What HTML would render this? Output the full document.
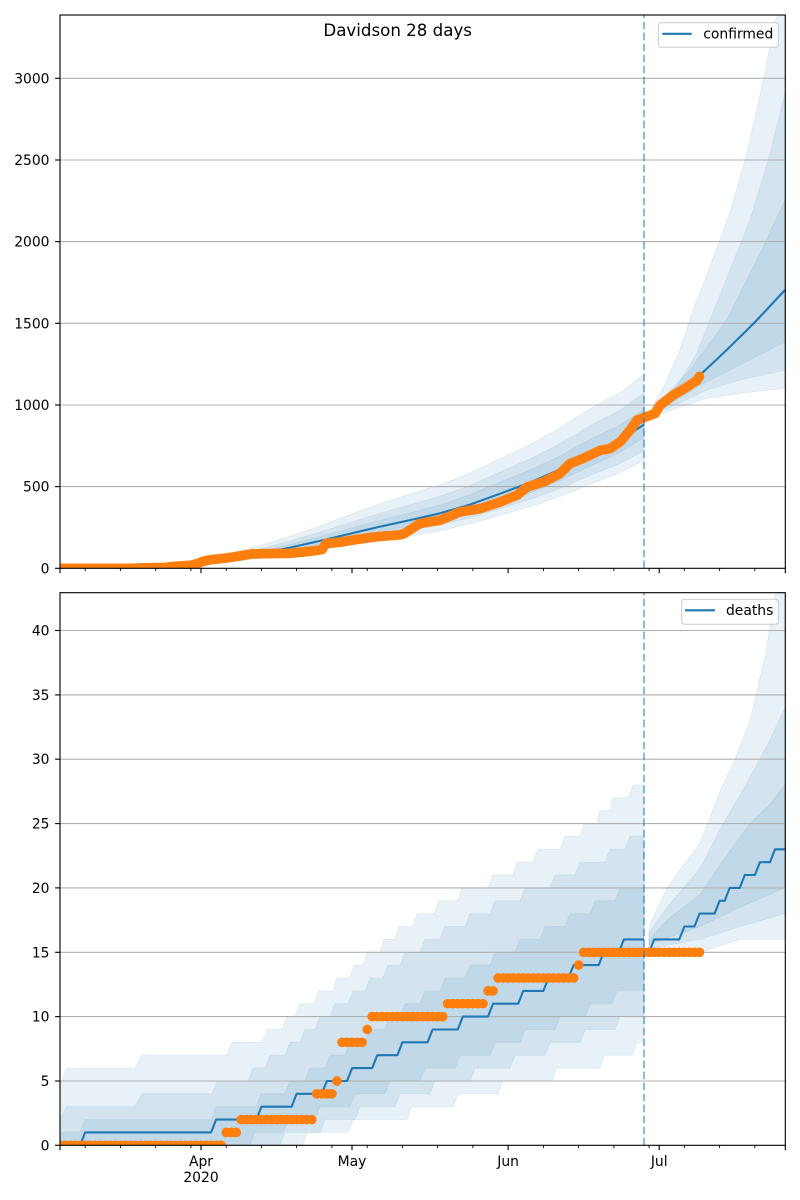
<!DOCTYPE html>
<html><head><meta charset="utf-8"><style>
html,body{margin:0;padding:0;background:#fff;}
svg{display:block;}
text{font-family:"DejaVu Sans","Liberation Sans",sans-serif;fill:#000;}
</style></head><body>
<svg width="800" height="1200" viewBox="0 0 800 1200" xmlns="http://www.w3.org/2000/svg">
<defs>
<clipPath id="c1"><rect x="60" y="15" width="725.3" height="553.3"/></clipPath>
<clipPath id="c2"><rect x="60" y="592.7" width="725.3" height="552.6"/></clipPath>
</defs>
<rect x="0" y="0" width="800" height="1200" fill="#fff"/>

<!-- ============ TOP AXES ============ -->
<g clip-path="url(#c1)">
 <g fill="#1f77b4" fill-opacity="0.1" stroke="#1f77b4" stroke-opacity="0.1" stroke-width="0.8">
  <path d="M60,568.3 L140,567.8 L170,566.3 L200,561.2 L230,553.6 L260,545.5 L290,536.1 L320,525.8 L350,514.6 L380,503.7 L410,494.0 L440,484.7 L470,473.1 L500,458.6 L530,444.4 L560,428.0 L590,408.8 L620,392.6 L644,374.3 L644,460.5 L620,473.0 L590,484.3 L560,496.5 L530,506.7 L500,515.3 L470,524.0 L440,530.9 L410,536.3 L380,540.8 L350,545.4 L320,550.2 L290,554.6 L260,558.6 L230,562.0 L200,565.3 L170,567.4 L140,568.3 L60,568.3Z"/>
  <path d="M60,568.3 L140,568 L170,566.6 L200,562.3 L230,555.8 L260,548.9 L290,540.9 L320,532.1 L350,522.6 L380,513.3 L410,504.8 L440,496.3 L470,485.6 L500,472.0 L530,459.0 L560,443.7 L590,425.8 L620,410.3 L644,393.0 L644,450.4 L620,463.5 L590,475.4 L560,488.5 L530,499.4 L500,508.6 L470,517.7 L440,524.9 L410,530.6 L380,535.8 L350,541.3 L320,546.9 L290,552.1 L260,556.8 L230,560.9 L200,564.7 L170,567.3 L140,568.3 L60,568.3Z"/>
  <path d="M60,568.3 L140,568 L170,566.8 L200,563.0 L230,557.4 L260,551.4 L290,544.5 L320,536.7 L350,528.5 L380,520.4 L410,512.9 L440,505.1 L470,494.8 L500,482.1 L530,470.0 L560,456.0 L590,439.4 L620,425.1 L644,408.8 L644,437.5 L620,452.5 L590,466.0 L560,480.7 L530,493.0 L500,503.4 L470,512.7 L440,520.1 L410,526.0 L380,531.6 L350,537.8 L320,544.2 L290,550.0 L260,555.4 L230,560.0 L200,564.3 L170,567.2 L140,568.3 L60,568.3Z"/>
  <path d="M649,412.7 L663,388 L680,350 L693,310 L706.7,275 L730,212 L745,160 L760,95 L775,22 L785,-5 L785,388.3 L740,393.3 L706.7,398.3 L649,418Z"/>
  <path d="M649,412.7 L676.7,386.7 L696.7,353.3 L723.3,286.7 L750,220 L768.3,160 L785,93 L785,370 L740,380 L706.7,390 L649,417Z"/>
  <path d="M649,412.7 L690,370 L726.7,320 L760,253.3 L785,200 L785,341.7 L740,365 L706.7,381.7 L649,416Z"/>
 </g>
 <g stroke="#b0b0b0" stroke-width="1.1">
  <line x1="60" x2="785.3" y1="486.6" y2="486.6"/>
  <line x1="60" x2="785.3" y1="405.0" y2="405.0"/>
  <line x1="60" x2="785.3" y1="323.3" y2="323.3"/>
  <line x1="60" x2="785.3" y1="241.6" y2="241.6"/>
  <line x1="60" x2="785.3" y1="160.0" y2="160.0"/>
  <line x1="60" x2="785.3" y1="78.3" y2="78.3"/>
 </g>
 <g fill="none" stroke="#1f77b4" stroke-width="2.08" stroke-linejoin="round">
  <polyline points="60,568.3 140,568.0 170,567.0 200,563.7 230,558.8 260,553.6 290,547.6 320,540.9 350,533.7 380,526.6 410,520.1 440,513.3 470,504.6 500,493.7 530,482.5 560,469.5 590,454.0 620,440.1 644,424.6"/>
  <polyline points="649,415 660,406 675,395 690,382 700,375 715,361 730,346.7 745,332 757,320 771,305 785,290"/>
 </g>
 <polyline fill="none" stroke="#ff7f0e" stroke-width="9.7" stroke-linecap="round" stroke-linejoin="round" points="60,568.3 130,568.3 145,567.8 165,567.5 175,566.3 190,565.4 198,563.4 203,561.4 210,559.8 225,558.2 240,555.9 252,553.9 265,553.6 290,553.3 303,552.0 318,550.3 322,549.5 326,543.5 340,542.2 355,539.7 375,536.9 400,534.8 404,533.7 420,523.5 440,520.3 460,511.9 480,508.7 500,502.0 517,495.3 527,487.0 543,482.1 560,473.6 570,463.6 583,458.5 600,450.4 610,448.6 620,442.0 630,430.3 637,420.3 647,416.4 655,413.6 660,405.3 673,395.3 687,387.0 697,380.3 699.5,376.4"/>
 <line x1="644" x2="644" y1="568.3" y2="15" stroke="#1f77b4" stroke-opacity="0.5" stroke-width="2.08" stroke-dasharray="7.7 3.3"/>
</g>
<!-- spines top -->
<rect x="60" y="15" width="725.3" height="553.3" fill="none" stroke="#000" stroke-width="1.11"/>
<!-- ticks top -->
<g stroke="#000" stroke-width="1.11">
 <line x1="55.1" x2="60" y1="568.3" y2="568.3"/>
 <line x1="55.1" x2="60" y1="486.6" y2="486.6"/>
 <line x1="55.1" x2="60" y1="405.0" y2="405.0"/>
 <line x1="55.1" x2="60" y1="323.3" y2="323.3"/>
 <line x1="55.1" x2="60" y1="241.6" y2="241.6"/>
 <line x1="55.1" x2="60" y1="160.0" y2="160.0"/>
 <line x1="55.1" x2="60" y1="78.3" y2="78.3"/>
 <line x1="60" x2="60" y1="568.3" y2="573.2"/>
 <line x1="201" x2="201" y1="568.3" y2="573.2"/>
 <line x1="352" x2="352" y1="568.3" y2="573.2"/>
 <line x1="508.1" x2="508.1" y1="568.3" y2="573.2"/>
 <line x1="659.2" x2="659.2" y1="568.3" y2="573.2"/>
 <line x1="785.3" x2="785.3" y1="568.3" y2="573.2"/>
</g>
<g stroke="#000" stroke-width="0.9">
 <line x1="85.2" x2="85.2" y1="568.3" y2="571.1"/><line x1="120.4" x2="120.4" y1="568.3" y2="571.1"/><line x1="155.7" x2="155.7" y1="568.3" y2="571.1"/><line x1="190.9" x2="190.9" y1="568.3" y2="571.1"/><line x1="226.2" x2="226.2" y1="568.3" y2="571.1"/><line x1="261.4" x2="261.4" y1="568.3" y2="571.1"/><line x1="296.6" x2="296.6" y1="568.3" y2="571.1"/><line x1="331.9" x2="331.9" y1="568.3" y2="571.1"/><line x1="367.2" x2="367.2" y1="568.3" y2="571.1"/><line x1="402.4" x2="402.4" y1="568.3" y2="571.1"/><line x1="437.6" x2="437.6" y1="568.3" y2="571.1"/><line x1="472.9" x2="472.9" y1="568.3" y2="571.1"/><line x1="543.4" x2="543.4" y1="568.3" y2="571.1"/><line x1="578.6" x2="578.6" y1="568.3" y2="571.1"/><line x1="613.9" x2="613.9" y1="568.3" y2="571.1"/><line x1="649.1" x2="649.1" y1="568.3" y2="571.1"/><line x1="684.3" x2="684.3" y1="568.3" y2="571.1"/><line x1="719.6" x2="719.6" y1="568.3" y2="571.1"/><line x1="754.8" x2="754.8" y1="568.3" y2="571.1"/>
</g>
<g font-size="13.89" text-anchor="end">
 <text x="49.5" y="573.3">0</text>
 <text x="49.5" y="491.6">500</text>
 <text x="49.5" y="410.0">1000</text>
 <text x="49.5" y="328.3">1500</text>
 <text x="49.5" y="246.6">2000</text>
 <text x="49.5" y="165.0">2500</text>
 <text x="49.5" y="83.3">3000</text>
</g>
<text x="397.7" y="36" font-size="16.67" text-anchor="middle">Davidson 28 days</text>
<!-- legend top -->
<rect x="658.3" y="22.7" width="120" height="24.6" rx="2.8" ry="2.8" fill="#fff" fill-opacity="0.8" stroke="#cccccc" stroke-width="1"/>
<line x1="662.3" x2="691.7" y1="33.8" y2="33.8" stroke="#1f77b4" stroke-width="2.08"/>
<text x="703.3" y="38.6" font-size="13.89">confirmed</text>

<!-- ============ BOTTOM AXES ============ -->
<g clip-path="url(#c2)">
 <g fill="#1f77b4" fill-opacity="0.1" stroke="#1f77b4" stroke-opacity="0.1" stroke-width="0.8">
  <path d="M60,1084.8 L66.7,1068.1 L135,1068.1 L141.7,1055.2 L226.7,1055.2 L231.7,1042.3 L262,1042.3 L268,1029.5 L282,1029.5 L287,1016.6 L295,1016.6 L300,1003.7 L314,1003.7 L319,990.9 L333,990.9 L337,978 L350,978 L354,965.1 L363,965.1 L367,952.3 L380,952.3 L384,939.4 L395,939.4 L399,926.5 L413,926.5 L417,913.6 L434,913.6 L439,900.8 L458,900.8 L462,887.9 L488,887.9 L493,875 L513,875 L517,862.2 L533,862.2 L538,849.3 L560,849.3 L565,836.4 L580,836.4 L584,823.6 L597,823.6 L600,810.7 L610,810.7 L613,797.8 L628,797.8 L633,784.9 L644,784.9 L644,1042.3 L637,1042.3 L632,1055.2 L604,1055.2 L600,1068.1 L556,1068.1 L553,1081 L503,1081 L498,1093.8 L458,1093.8 L453,1106.7 L412,1106.7 L407,1119.6 L353,1119.6 L348,1132.4 L307,1132.4 L303,1145.3 L60,1145.3 Z"/>
  <path d="M60,1119.6 L66,1106.7 L135,1106.7 L142,1093.8 L212,1093.8 L217,1081 L248,1081 L253,1068.1 L265,1068.1 L270,1055.2 L285,1055.2 L290,1042.3 L300,1042.3 L305,1029.5 L315,1029.5 L320,1016.6 L330,1016.6 L335,1003.7 L348,1003.7 L353,990.9 L365,990.9 L370,978 L383,978 L388,965.1 L400,965.1 L405,952.3 L420,952.3 L425,939.4 L440,939.4 L445,926.5 L465,926.5 L470,913.6 L490,913.6 L495,900.8 L520,900.8 L525,887.9 L550,887.9 L555,875 L575,875 L580,862.2 L605,862.2 L610,849.3 L625,849.3 L630,836.4 L644,836.4 L644,1016.6 L620,1016.6 L615,1029.5 L585,1029.5 L580,1042.3 L550,1042.3 L545,1055.2 L515,1055.2 L510,1068.1 L475,1068.1 L470,1081 L435,1081 L430,1093.8 L400,1093.8 L395,1106.7 L360,1106.7 L355,1119.6 L325,1119.6 L320,1132.4 L285,1132.4 L280,1145.3 L60,1145.3 Z"/>
  <path d="M60,1132.4 L80,1132.4 L85,1119.6 L211,1119.6 L216,1106.7 L256,1106.7 L261,1093.8 L285,1093.8 L290,1081 L305,1081 L310,1068.1 L325,1068.1 L330,1055.2 L345,1055.2 L350,1042.3 L365,1042.3 L370,1029.5 L385,1029.5 L390,1016.6 L400,1016.6 L405,1003.7 L420,1003.7 L425,990.9 L440,990.9 L445,978 L465,978 L470,965.1 L490,965.1 L495,952.3 L515,952.3 L520,939.4 L540,939.4 L545,926.5 L565,926.5 L570,913.6 L590,913.6 L595,900.8 L615,900.8 L620,887.9 L644,887.9 L644,990.9 L617,990.9 L612,1003.7 L590,1003.7 L585,1016.6 L560,1016.6 L555,1029.5 L525,1029.5 L520,1042.3 L495,1042.3 L490,1055.2 L460,1055.2 L455,1068.1 L425,1068.1 L420,1081 L390,1081 L385,1093.8 L355,1093.8 L350,1106.7 L320,1106.7 L315,1119.6 L288,1119.6 L283,1132.4 L255,1132.4 L250,1145.3 L60,1145.3 Z"/>
  <path d="M649,926.5 L667,887.9 L700,842.9 L720,791.4 L735,759.2 L750,720.6 L765,656.2 L777,585.5 L785,553.3 L785,939.4 L740,939.4 L700,952.3 L649,952.3Z"/>
  <path d="M649,933.0 L667,907.2 L700,868.6 L720,830.0 L750,777.2 L770,739.9 L785,707.7 L785,913.6 L740,926.5 L700,939.4 L649,948.4Z"/>
  <path d="M649,939.4 L667,920.1 L700,894.3 L720,864.7 L750,823.6 L770,804.2 L785,784.9 L785,887.9 L740,907.2 L700,926.5 L649,944.5Z"/>
 </g>
 <g stroke="#b0b0b0" stroke-width="1.1">
  <line x1="60" x2="785.3" y1="1081.0" y2="1081.0"/>
  <line x1="60" x2="785.3" y1="1016.6" y2="1016.6"/>
  <line x1="60" x2="785.3" y1="952.3" y2="952.3"/>
  <line x1="60" x2="785.3" y1="887.9" y2="887.9"/>
  <line x1="60" x2="785.3" y1="823.6" y2="823.6"/>
  <line x1="60" x2="785.3" y1="759.2" y2="759.2"/>
  <line x1="60" x2="785.3" y1="694.9" y2="694.9"/>
  <line x1="60" x2="785.3" y1="630.5" y2="630.5"/>
 </g>
 <g fill="none" stroke="#1f77b4" stroke-width="2.08" stroke-linejoin="round">
  <polyline points="60,1145.3 80.1,1145.3 85.2,1132.4 211.1,1132.4 216.1,1119.6 256.4,1119.6 261.4,1106.7 291.6,1106.7 296.6,1093.8 321.8,1093.8 326.9,1081.0 347.0,1081.0 352.1,1068.1 372.2,1068.1 377.2,1055.2 397.4,1055.2 402.4,1042.3 427.6,1042.3 432.6,1029.5 457.8,1029.5 462.8,1016.6 488.0,1016.6 493.0,1003.7 518.2,1003.7 523.2,990.9 543.4,990.9 548.4,978.0 568.5,978.0 573.6,965.1 598.7,965.1 603.7,952.3 618.8,952.3 623.9,939.4 644.0,939.4"/>
  <polyline points="649.1,952.3 654.2,939.4 679.3,939.4 684.4,926.5 694.4,926.5 699.5,913.6 714.6,913.6 719.6,900.8 724.7,900.8 729.7,887.9 739.8,887.9 744.8,875.0 754.9,875.0 759.9,862.2 770.0,862.2 775.0,849.3 785.1,849.3"/>
 </g>
 <g stroke="#ff7f0e" stroke-width="9.7" stroke-linecap="round" stroke-dasharray="0.01 5.025" fill="none">
  <line x1="60" x2="221.6" y1="1145.3" y2="1145.3"/>
  <line x1="226.2" x2="236.7" y1="1132.4" y2="1132.4"/>
  <line x1="241.2" x2="312.3" y1="1119.6" y2="1119.6"/>
  <line x1="316.8" x2="332.4" y1="1093.8" y2="1093.8"/>
  <line x1="342.0" x2="362.6" y1="1042.3" y2="1042.3"/>
  <line x1="372.2" x2="443.2" y1="1016.6" y2="1016.6"/>
  <line x1="447.7" x2="483.4" y1="1003.7" y2="1003.7"/>
  <line x1="488.0" x2="493.5" y1="990.9" y2="990.9"/>
  <line x1="498.1" x2="574.1" y1="978.0" y2="978.0"/>
  <line x1="583.6" x2="700.0" y1="952.3" y2="952.3"/>
 </g>
 <g fill="#ff7f0e">
  <circle cx="336.9" cy="1081.0" r="4.85"/>
  <circle cx="367.2" cy="1029.5" r="4.85"/>
  <circle cx="578.6" cy="965.1" r="4.85"/>
 </g>
 <line x1="644" x2="644" y1="1145.3" y2="592.7" stroke="#1f77b4" stroke-opacity="0.5" stroke-width="2.08" stroke-dasharray="7.7 3.3"/>
</g>
<rect x="60" y="592.7" width="725.3" height="552.6" fill="none" stroke="#000" stroke-width="1.11"/>
<g stroke="#000" stroke-width="1.11">
 <line x1="55.1" x2="60" y1="1145.3" y2="1145.3"/>
 <line x1="55.1" x2="60" y1="1081.0" y2="1081.0"/>
 <line x1="55.1" x2="60" y1="1016.6" y2="1016.6"/>
 <line x1="55.1" x2="60" y1="952.3" y2="952.3"/>
 <line x1="55.1" x2="60" y1="887.9" y2="887.9"/>
 <line x1="55.1" x2="60" y1="823.6" y2="823.6"/>
 <line x1="55.1" x2="60" y1="759.2" y2="759.2"/>
 <line x1="55.1" x2="60" y1="694.9" y2="694.9"/>
 <line x1="55.1" x2="60" y1="630.5" y2="630.5"/>
 <line x1="60" x2="60" y1="1145.3" y2="1150.2"/>
 <line x1="201" x2="201" y1="1145.3" y2="1150.2"/>
 <line x1="352" x2="352" y1="1145.3" y2="1150.2"/>
 <line x1="508.1" x2="508.1" y1="1145.3" y2="1150.2"/>
 <line x1="659.2" x2="659.2" y1="1145.3" y2="1150.2"/>
 <line x1="785.3" x2="785.3" y1="1145.3" y2="1150.2"/>
</g>
<g stroke="#000" stroke-width="0.9">
 <line x1="85.2" x2="85.2" y1="1145.3" y2="1148.1"/><line x1="120.4" x2="120.4" y1="1145.3" y2="1148.1"/><line x1="155.7" x2="155.7" y1="1145.3" y2="1148.1"/><line x1="190.9" x2="190.9" y1="1145.3" y2="1148.1"/><line x1="226.2" x2="226.2" y1="1145.3" y2="1148.1"/><line x1="261.4" x2="261.4" y1="1145.3" y2="1148.1"/><line x1="296.6" x2="296.6" y1="1145.3" y2="1148.1"/><line x1="331.9" x2="331.9" y1="1145.3" y2="1148.1"/><line x1="367.2" x2="367.2" y1="1145.3" y2="1148.1"/><line x1="402.4" x2="402.4" y1="1145.3" y2="1148.1"/><line x1="437.6" x2="437.6" y1="1145.3" y2="1148.1"/><line x1="472.9" x2="472.9" y1="1145.3" y2="1148.1"/><line x1="543.4" x2="543.4" y1="1145.3" y2="1148.1"/><line x1="578.6" x2="578.6" y1="1145.3" y2="1148.1"/><line x1="613.9" x2="613.9" y1="1145.3" y2="1148.1"/><line x1="649.1" x2="649.1" y1="1145.3" y2="1148.1"/><line x1="684.3" x2="684.3" y1="1145.3" y2="1148.1"/><line x1="719.6" x2="719.6" y1="1145.3" y2="1148.1"/><line x1="754.8" x2="754.8" y1="1145.3" y2="1148.1"/>
</g>
<g font-size="13.89" text-anchor="end">
 <text x="49.5" y="1150.3">0</text>
 <text x="49.5" y="1086.0">5</text>
 <text x="49.5" y="1021.6">10</text>
 <text x="49.5" y="957.3">15</text>
 <text x="49.5" y="892.9">20</text>
 <text x="49.5" y="828.6">25</text>
 <text x="49.5" y="764.2">30</text>
 <text x="49.5" y="699.9">35</text>
 <text x="49.5" y="635.5">40</text>
</g>
<g font-size="13.89" text-anchor="middle">
 <text x="201" y="1166.2">Apr</text>
 <text x="201" y="1182">2020</text>
 <text x="352" y="1166.2">May</text>
 <text x="508.1" y="1166.2">Jun</text>
 <text x="659.2" y="1166.2">Jul</text>
</g>
<!-- legend bottom -->
<rect x="681.7" y="599.3" width="96.6" height="25" rx="2.8" ry="2.8" fill="#fff" fill-opacity="0.8" stroke="#cccccc" stroke-width="1"/>
<line x1="685" x2="715" y1="610.3" y2="610.3" stroke="#1f77b4" stroke-width="2.08"/>
<text x="726" y="615.2" font-size="13.89">deaths</text>
</svg>
</body></html>
